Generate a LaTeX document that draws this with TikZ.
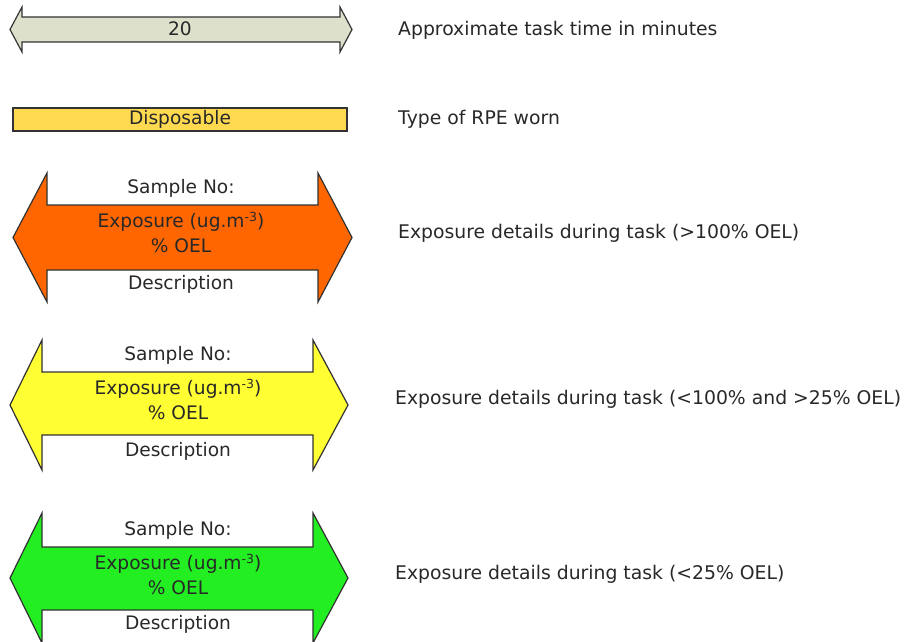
\documentclass[tikz,border=0pt]{standalone}
\usepackage{fontspec}
\setmainfont{DejaVu Sans}
\definecolor{tgrey}{RGB}{221,224,203}
\definecolor{disp}{RGB}{255,217,80}
\definecolor{orng}{RGB}{255,102,0}
\definecolor{yllw}{RGB}{255,255,51}
\definecolor{grn}{RGB}{34,238,34}
\definecolor{edge}{RGB}{50,50,50}
\definecolor{txt}{RGB}{40,40,40}
\newcommand{\myarrow}[9]{%
  \filldraw[shapeline, fill=#1] (#2,{(#6+#9)/2}) -- (#3,#6) -- (#3,#7) -- (#4,#7) -- (#4,#6) -- (#5,{(#6+#9)/2}) -- (#4,#9) -- (#4,#8) -- (#3,#8) -- (#3,#9) -- cycle;}
\newcommand{\supm}{\raisebox{6.5pt}{\fontsize{12.5}{13}\selectfont -3}}
\begin{document}
\begin{tikzpicture}[x=1pt,y=-1pt,
  shapeline/.style={draw=edge, line width=1.2pt, line join=miter},
  lbl/.style={font=\fontsize{18.8}{20}\selectfont, text=txt, inner sep=0pt, anchor=west},
  intxt/.style={font=\fontsize{18.6}{20}\selectfont, text=txt, inner sep=0pt, align=center}]
\useasboundingbox (0,0) rectangle (913,641);
% top arrow
\myarrow{tgrey}{10}{22}{340}{352}{7}{17}{42}{52}
\node[intxt] (t20) at (180,29) {20};
\node[lbl] (ltime) at (398,30) {Approximate task time in minutes};
% disposable
\node[draw=edge, line width=1.2pt, fill=disp, minimum width=334pt, minimum height=23pt, inner sep=0pt, font=\fontsize{18.6}{20}\selectfont, text=txt] (disp) at (180,119.5) {Disposable};
\node[lbl] (lrpe) at (398,119) {Type of RPE worn};
% orange
\myarrow{orng}{13}{47}{318}{352}{173}{205}{270}{302}
\node[intxt] (os) at (181,188) {Sample No:};
\node[intxt] (oe) at (181,222) {Exposure (ug.m\supm)};
\node[intxt] (oo) at (181,246) {\% OEL};
\node[intxt] (od) at (181,284) {Description};
\node[lbl] (lo) at (398,233) {Exposure details during task (>100\% OEL)};
% yellow
\myarrow{yllw}{10}{42}{313}{348}{340}{372}{435}{470}
\node[intxt] (ys) at (178,355) {Sample No:};
\node[intxt] (ye) at (178,389) {Exposure (ug.m\supm)};
\node[intxt] (yo) at (178,413) {\% OEL};
\node[intxt] (yd) at (178,451) {Description};
\node[lbl] (ly) at (395,399) {Exposure details during task (<100\% and >25\% OEL)};
% green
\myarrow{grn}{10}{42}{313}{348}{513}{547}{610}{643}
\node[intxt] (gs) at (178,530) {Sample No:};
\node[intxt] (ge) at (178,564) {Exposure (ug.m\supm)};
\node[intxt] (go) at (178,588) {\% OEL};
\node[intxt] (gd) at (178,624) {Description};
\node[lbl] (lg) at (395,574) {Exposure details during task (<25\% OEL)};
\end{tikzpicture}
\end{document}
